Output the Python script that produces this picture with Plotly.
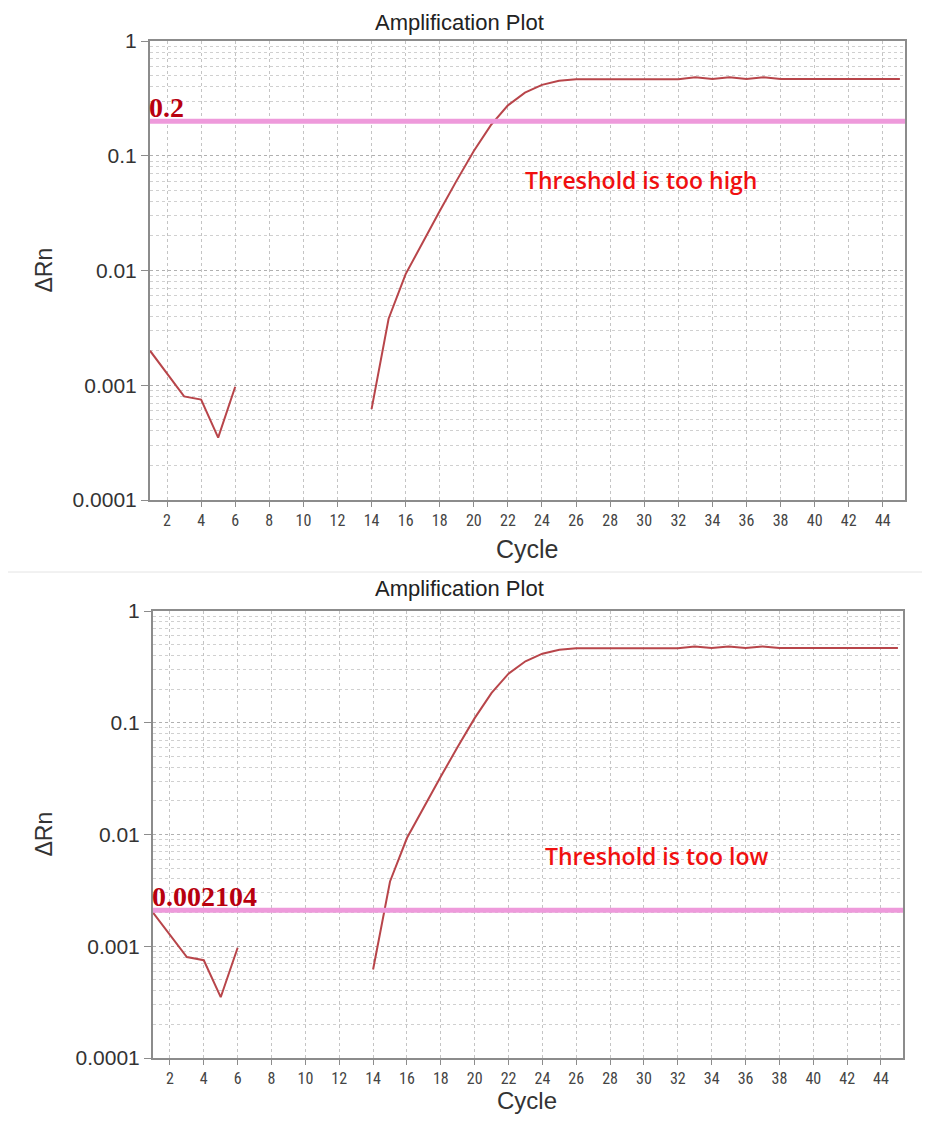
import math
import plotly.graph_objects as go

# ---- data ----
cycles_early = [1, 2, 3, 4, 5, 6]
drn_early = [0.0020, 0.00125, 0.00080, 0.00075, 0.00035, 0.00097]

cycles_amp = list(range(14, 46))
drn_amp = [0.00062, 0.0038, 0.0093, 0.0178, 0.033, 0.061, 0.11, 0.185, 0.275,
           0.355, 0.415, 0.45, 0.465, 0.465, 0.465, 0.465, 0.465, 0.465, 0.465,
           0.482, 0.466, 0.482, 0.466, 0.482, 0.466, 0.466, 0.466, 0.466,
           0.466, 0.466, 0.466, 0.466]

thresholds = [0.2, 0.002104]
threshold_labels = ["0.2", "0.002104"]
notes = ["Threshold is too high", "Threshold is too low"]

x_ticks = list(range(2, 46, 2))
y_tickvals = [1, 0.1, 0.01, 0.001, 0.0001]
y_ticktext = ["1", "0.1", "0.01", "0.001", "0.0001"]

# page geometry (body margin of the html page is 8px)
PAGE_W, PAGE_H = 930, 1124
OFF = 8
W, H = PAGE_W - 2 * OFF, PAGE_H - 2 * OFF


def px(p):
    return (p - OFF) / W


def py(p):
    return 1 - (p - OFF) / H


panels = [
    dict(x=(150, 905), y=(41, 500), title_y=23, cycle_y=549, cycle_size=25, note=(641, 180)),
    dict(x=(153, 903), y=(611, 1058), title_y=588, cycle_y=1100, cycle_size=24, note=(657, 856)),
]

curve_color = "#B8454A"
thr_color = "#EE9ADB"
grid_color = "#C4C4C4"
axis_color = "#8C8C8C"

minor_vals = [m * 10 ** e for e in range(-4, 0) for m in range(2, 10)]

fig = go.Figure()
annotations = []
shapes = []

for i, p in enumerate(panels):
    xa = "x" if i == 0 else "x2"
    ya = "y" if i == 0 else "y2"
    fig.add_trace(go.Scatter(x=cycles_early, y=drn_early, mode="lines",
                             line=dict(color=curve_color, width=2),
                             xaxis=xa, yaxis=ya, showlegend=False))
    fig.add_trace(go.Scatter(x=cycles_amp, y=drn_amp, mode="lines",
                             line=dict(color=curve_color, width=2),
                             xaxis=xa, yaxis=ya, showlegend=False))

    axkey = "xaxis" if i == 0 else "xaxis2"
    aykey = "yaxis" if i == 0 else "yaxis2"
    fig.update_layout(**{
        axkey: dict(domain=[px(p["x"][0]), px(p["x"][1])], range=[1, 45.3],
                    anchor=ya, tickmode="array", tickvals=x_ticks, automargin=False,
                    ticks="outside", ticklen=5, tickcolor=axis_color,
                    showline=True, linecolor=axis_color, linewidth=2, mirror=True,
                    showgrid=True, gridcolor=grid_color, griddash="dot", gridwidth=1,
                    zeroline=False,
                    tickfont=dict(family="Liberation Sans Narrow, Roboto Condensed, Liberation Sans, Arial",
                                  size=16, color="#444444")),
        aykey: dict(domain=[py(p["y"][1]), py(p["y"][0])], type="log", range=[-4, 0],
                    anchor=xa, tickmode="array", tickvals=y_tickvals, ticktext=y_ticktext,
                    automargin=False,
                    ticks="outside", ticklen=7, tickcolor=axis_color,
                    showline=True, linecolor=axis_color, linewidth=2, mirror=True,
                    showgrid=True, gridcolor="#B0B0B0", griddash="dot", gridwidth=1,
                    minor=dict(tickmode="array", tickvals=minor_vals, showgrid=True,
                               gridcolor="#D0D0D0", griddash="dot", gridwidth=1, ticks=""),
                    zeroline=False,
                    tickfont=dict(family="Liberation Sans, Arial", size=21, color="#333333")),
    })

    # threshold line
    shapes.append(dict(type="line", xref=f"{xa} domain", x0=0, x1=1,
                       yref=ya, y0=thresholds[i], y1=thresholds[i],
                       line=dict(color=thr_color, width=5), layer="above"))
    annotations.append(dict(text=f"<b>{threshold_labels[i]}</b>", xref=f"{xa} domain", x=0,
                            yref=ya, y=math.log10(thresholds[i]),
                            xanchor="left", yanchor="bottom", showarrow=False, yshift=-4, xshift=-3,
                            font=dict(family="Liberation Serif, Times New Roman", size=28, color="#B8000F")))
    # title
    annotations.append(dict(text="Amplification Plot", xref="paper", yref="paper",
                            x=px(459), y=py(p["title_y"]), showarrow=False,
                            xanchor="center", yanchor="middle",
                            font=dict(family="Liberation Sans, Arial", size=22, color="#222222")))
    # x title
    annotations.append(dict(text="Cycle", xref="paper", yref="paper",
                            x=px(527), y=py(p["cycle_y"]), showarrow=False,
                            xanchor="center", yanchor="middle",
                            font=dict(family="Liberation Sans, Arial", size=p["cycle_size"], color="#333333")))
    # y title
    annotations.append(dict(text="ΔRn", xref="paper", yref="paper",
                            x=px(43), y=py((p["y"][0] + p["y"][1]) / 2), showarrow=False,
                            textangle=-90, xanchor="center", yanchor="middle",
                            font=dict(family="Liberation Sans, Arial", size=23, color="#333333")))
    # note
    annotations.append(dict(text=notes[i], xref="paper", yref="paper",
                            x=px(p["note"][0]), y=py(p["note"][1]), showarrow=False,
                            xanchor="center", yanchor="middle",
                            font=dict(family="Open Sans, Lato, Arial", size=23, weight=600,
                                      color="#F01010")))

# faint separator between the two screenshots
shapes.append(dict(type="line", xref="paper", yref="paper", x0=0, x1=1,
                   y0=py(572), y1=py(572), line=dict(color="#E4E4E4", width=1)))

fig.update_layout(width=W, height=H,
                  margin=dict(l=0, r=0, t=0, b=0, pad=0, autoexpand=False),
                  paper_bgcolor="white", plot_bgcolor="white",
                  annotations=annotations, shapes=shapes, showlegend=False)

fig.write_html("out.html")
